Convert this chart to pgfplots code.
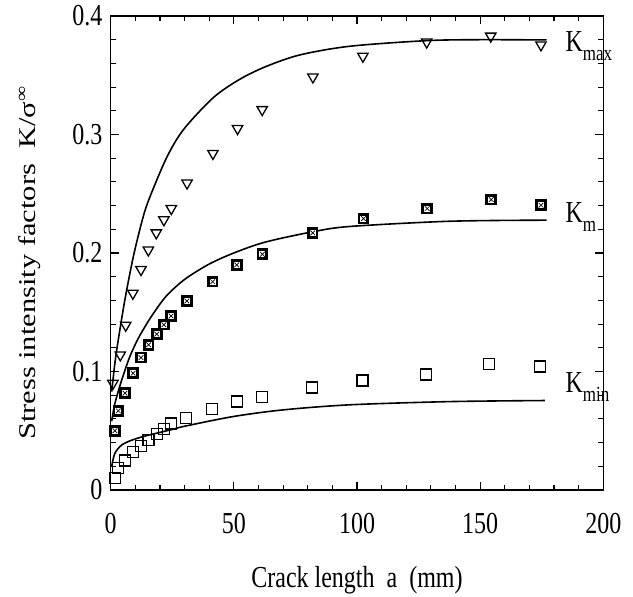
\documentclass[border=0pt]{standalone}
\usepackage{fontspec}
\setmainfont{Liberation Serif}
\usepackage{pgfplots}
\pgfplotsset{compat=1.18}
\pgfdeclareplotmark{boxx}{%
  \pgfpathrectangle{\pgfpoint{-\pgfplotmarksize}{-\pgfplotmarksize}}{\pgfpoint{2\pgfplotmarksize}{2\pgfplotmarksize}}%
  \pgfsetfillcolor{black}\pgfusepath{fill}%
  \pgfpathrectangle{\pgfpoint{-0.52\pgfplotmarksize}{-0.52\pgfplotmarksize}}{\pgfpoint{1.04\pgfplotmarksize}{1.04\pgfplotmarksize}}%
  \pgfsetfillcolor{white}\pgfusepath{fill}%
  \pgfpathmoveto{\pgfpoint{-0.4\pgfplotmarksize}{-0.4\pgfplotmarksize}}\pgfpathlineto{\pgfpoint{0.4\pgfplotmarksize}{0.4\pgfplotmarksize}}%
  \pgfpathmoveto{\pgfpoint{-0.4\pgfplotmarksize}{0.4\pgfplotmarksize}}\pgfpathlineto{\pgfpoint{0.4\pgfplotmarksize}{-0.4\pgfplotmarksize}}%
  \pgfsetlinewidth{0.7pt}\pgfsetstrokecolor{black}\pgfusepath{stroke}%
}
\newcommand{\bigfont}{\fontsize{24}{28}\selectfont}
\newcommand{\subfont}{\fontsize{17}{20}\selectfont}
\begin{document}
\begin{tikzpicture}
\useasboundingbox (0,0) rectangle (633pt,597pt);
\begin{axis}[
  at={(110.7pt,107pt)}, anchor=south west,
  scale only axis, width=492.6pt, height=474pt,
  xmin=0, xmax=200, ymin=0, ymax=0.4,
  xtick={0,50,100,150,200}, xticklabels={0,50,100,150,200},
  ytick={0,0.1,0.2,0.3,0.4}, yticklabels={0,0.1,0.2,0.3,0.4},
  minor x tick num=4, minor y tick num=4,
  tick align=inside, major tick length=8pt, minor tick length=5pt,
  tick style={line width=1.1pt, black},
  axis line style={line width=1.6pt},
  clip=false,
  /pgf/number format/assume math mode=true,
  tick label style={font=\bigfont, yscale=1.27},
  xticklabel style={anchor=center, yshift=-26pt},
  yticklabel style={anchor=east, inner sep=0pt, xshift=-8pt},
  xlabel={Crack length\ \ a\ \ (mm)},
  ylabel={Stress intensity factors\ \ K/σ\textsuperscript{∞}},
  every axis x label/.style={at={(axis description cs:0.5,0)}, anchor=center, yshift=-90pt, font=\bigfont, yscale=1.27},
  every axis y label/.style={at={(axis description cs:-0.1638,0.479)}, rotate=90, anchor=center, font=\bigfont, xscale=1.27},
]
% Kmax curve
\addplot[black, line width=1.6pt, smooth, no marks] coordinates {
(0.4,0.083)(1.7,0.107)(3.1,0.127)(5.8,0.161)(9.2,0.197)(12.6,0.226)(15.3,0.244)(22.6,0.280)(29.5,0.304)(41.6,0.331)(52.4,0.3466)(63.2,0.3575)(76.9,0.3672)(97.2,0.3745)(128.3,0.3792)(150,0.3800)(177,0.3798)};
% Km curve
\addplot[black, line width=1.6pt, smooth, no marks] coordinates {
(0.4,0.058)(1.7,0.073)(4.5,0.093)(7.8,0.1127)(11.2,0.128)(15,0.1415)(18,0.151)(22.7,0.164)(30.2,0.178)(40.3,0.191)(51.2,0.2010)(63.3,0.2095)(82.3,0.2180)(97.2,0.2224)(137.8,0.2268)(177,0.2277)};
% Kmin curve
\addplot[black, line width=1.6pt, smooth, no marks] coordinates {
(0.4,0.020)(1.7,0.031)(4.5,0.038)(8.5,0.042)(13.9,0.0455)(24.8,0.051)(30,0.0538)(49.8,0.062)(70,0.0676)(97.2,0.0719)(137.8,0.0746)(176.3,0.0755)};
% Kmax data
\addplot[only marks, mark=triangle, mark size=6pt, mark options={rotate=180, black, line width=1.3pt, fill=white}] coordinates {
(0.9,0.090)(3.9,0.114)(6.1,0.139)(9.0,0.166)(12.3,0.186)(15.3,0.2025)(18.5,0.217)(21.6,0.228)(24.6,0.2375)(31,0.259)(41.5,0.284)(51.5,0.305)(61.5,0.321)(82.1,0.3485)(102.4,0.366)(128.3,0.378)(154.3,0.383)(174.7,0.3756)};
% Km data
\addplot[only marks, mark=boxx, mark size=5.8pt] coordinates {
(1.7,0.050)(3.1,0.0668)(5.8,0.0817)(9.1,0.0986)(12.3,0.1118)(15.4,0.1226)(18.7,0.1316)(21.6,0.1395)(24.5,0.1468)(30.9,0.1595)(41.4,0.1758)(51.2,0.190)(61.6,0.1989)(82,0.217)(102.6,0.229)(128.5,0.2375)(154.5,0.2451)(174.7,0.2403)};
% Kmin data
\addplot[only marks, mark=square, mark size=5.5pt, mark options={black, line width=1.3pt, fill=white}] coordinates {
(1.7,0.0104)(3.1,0.0183)(5.8,0.0248)(9.1,0.0318)(12.3,0.0372)(15.4,0.0423)(18.7,0.0471)(21.6,0.0516)(24.5,0.056)(30.5,0.0606)(41,0.0682)(51.2,0.0746)(61.3,0.0784)(81.6,0.0865)(102.2,0.0924)(128,0.0975)(153.7,0.1065)(174.2,0.1042)};
\node[anchor=base west, inner sep=0pt, font=\bigfont, yscale=1.27] at (axis cs:184.6,0.370) {K\raisebox{-0.28em}{\subfont max}};
\node[anchor=base west, inner sep=0pt, font=\bigfont, yscale=1.27] at (axis cs:184.6,0.2257) {K\raisebox{-0.28em}{\subfont m}};
\node[anchor=base west, inner sep=0pt, font=\bigfont, yscale=1.27] at (axis cs:184.6,0.082) {K\raisebox{-0.28em}{\subfont min}};
\end{axis}
\end{tikzpicture}
\end{document}
